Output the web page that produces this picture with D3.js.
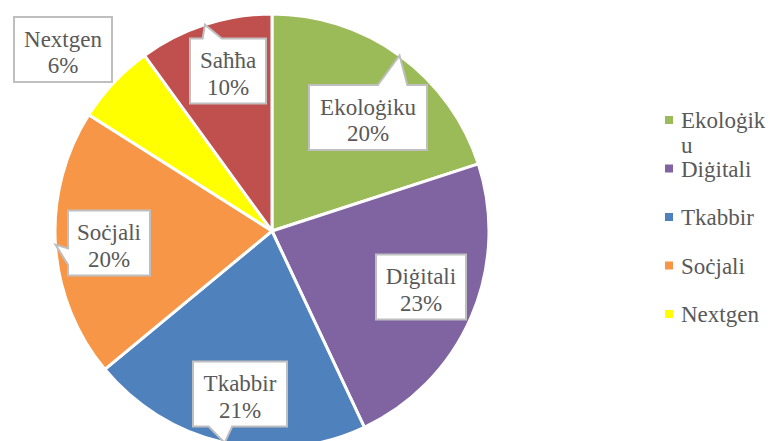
<meta charset="utf-8">
<body style="margin:0">
<script src="https://d3js.org/d3.v7.min.js"></script>
<script>
    // Data
    const categories = ["Ekoloġiku", "Diġitali", "Tkabbir", "Soċjali", "Nextgen", "Saħħa"];
    const shares = [20, 23, 21, 20, 6, 10];
    const colors = ["#9BBB59", "#8064A2", "#4F81BD", "#F79646", "#FFFF00", "#C0504D"];
    // legend only had room for the first five entries
    const legendItems = categories.slice(0, 5);

    // Layout
    const W = 770, H = 441;
    const cx = 272, cy = 231, R = 217;
    const fontFamily = "Times New Roman";
    const fontSize = 23, lineH = 26.5;
    // label box centre (offset from pie centre) and box width
    const labelOffsets = [[96, -113.5], [149, 56], [-32, 163], [-163, 12], [-209, -181.5], [-44, -160]];
    const labelWidths = [118, 90, 94, 82, 98, 76];
    const legendMaxChars = 8;

    const data = categories.map((c, i) => ({ name: c, value: shares[i], color: colors[i], off: labelOffsets[i], bw: labelWidths[i] }));

    const svg = d3.select("body").append("svg")
      .attr("width", W).attr("height", H)
      .style("display", "block");

    const g = svg.append("g").attr("transform", `translate(${cx},${cy})`);

    const pie = d3.pie().value(d => d.value).sort(null);
    const arc = d3.arc().innerRadius(0).outerRadius(R);
    const arcs = pie(data);

    g.selectAll("path.slice")
      .data(arcs)
      .join("path")
      .attr("class", "slice")
      .attr("d", arc)
      .attr("fill", d => d.data.color)
      .attr("stroke", "#fff")
      .attr("stroke-width", 3)
      .attr("stroke-linejoin", "round");

    // Callout labels
    const labels = g.selectAll("g.lbl")
      .data(arcs)
      .join("g")
      .attr("class", "lbl");

    labels.each(function (d) {
      const sel = d3.select(this);
      const [ox, oy] = d.data.off;
      const lines = [d.data.name, Math.round(d.data.value) + "%"];

      const bw = d.data.bw, bh = 2 * lineH + 12;
      const x0 = ox - bw / 2, y0 = oy - bh / 2, x1 = x0 + bw, y1 = y0 + bh;

      // pointer tip at outer edge, middle of the slice
      const mid = (d.startAngle + d.endAngle) / 2;
      const ax = R * Math.sin(mid), ay = -R * Math.cos(mid);
      const outside = Math.max(x0 - ax, ax - x1, y0 - ay, ay - y1);

      let pts = [[x0, y0], [x1, y0], [x1, y1], [x0, y1]];
      if (outside > 12) {
        const dx = (ax - ox) / bw, dy = (ay - oy) / bh;
        const fr = (neg) => neg ? [2 / 12, 5 / 12] : [7 / 12, 10 / 12];
        if (Math.abs(dy) >= Math.abs(dx)) {
          const f = fr(dx < 0);
          const xa = x0 + f[0] * bw, xb = x0 + f[1] * bw;
          if (dy < 0) pts = [[x0, y0], [xa, y0], [ax, ay], [xb, y0], [x1, y0], [x1, y1], [x0, y1]];
          else pts = [[x0, y0], [x1, y0], [x1, y1], [xb, y1], [ax, ay], [xa, y1], [x0, y1]];
        } else {
          const f = fr(dy < 0);
          const ya = y0 + f[0] * bh, yb = y0 + f[1] * bh;
          if (dx > 0) pts = [[x0, y0], [x1, y0], [x1, ya], [ax, ay], [x1, yb], [x1, y1], [x0, y1]];
          else pts = [[x0, y0], [x1, y0], [x1, y1], [x0, y1], [x0, yb], [ax, ay], [x0, ya]];
        }
      }
      sel.append("path")
        .attr("d", d3.line()(pts) + "Z")
        .attr("fill", "#fff")
        .attr("stroke", "#BFBFBF")
        .attr("stroke-width", 2);

      sel.selectAll("text")
        .data(lines)
        .join("text")
        .attr("x", ox)
        .attr("y", (t, i) => oy - 3 + i * lineH)
        .attr("text-anchor", "middle")
        .style("font-family", fontFamily)
        .style("font-size", fontSize + "px")
        .style("fill", "#595959")
        .text(t => t);
    });

    // Legend
    const legendX = 665;
    const ly = d3.scalePoint().domain(legendItems).range([128, 322]);

    // the narrow legend breaks long names mid-word
    function wrapChars(s) {
      const chars = Array.from(s), out = [];
      for (let i = 0; i < chars.length; i += legendMaxChars) out.push(chars.slice(i, i + legendMaxChars).join(""));
      return out;
    }

    const leg = svg.append("g").selectAll("g")
      .data(legendItems)
      .join("g")
      .attr("transform", d => `translate(${legendX},${ly(d)})`);

    leg.append("rect")
      .attr("x", 0).attr("y", -12)
      .attr("width", 8).attr("height", 8)
      .attr("fill", d => colors[categories.indexOf(d)]);

    leg.append("text")
      .attr("x", 16)
      .style("font-family", fontFamily)
      .style("font-size", fontSize + "px")
      .style("fill", "#595959")
      .selectAll("tspan")
      .data(d => wrapChars(d))
      .join("tspan")
      .attr("x", 16)
      .attr("dy", (t, i) => i ? 25 : 0)
      .text(t => t);
</script>
</body>
